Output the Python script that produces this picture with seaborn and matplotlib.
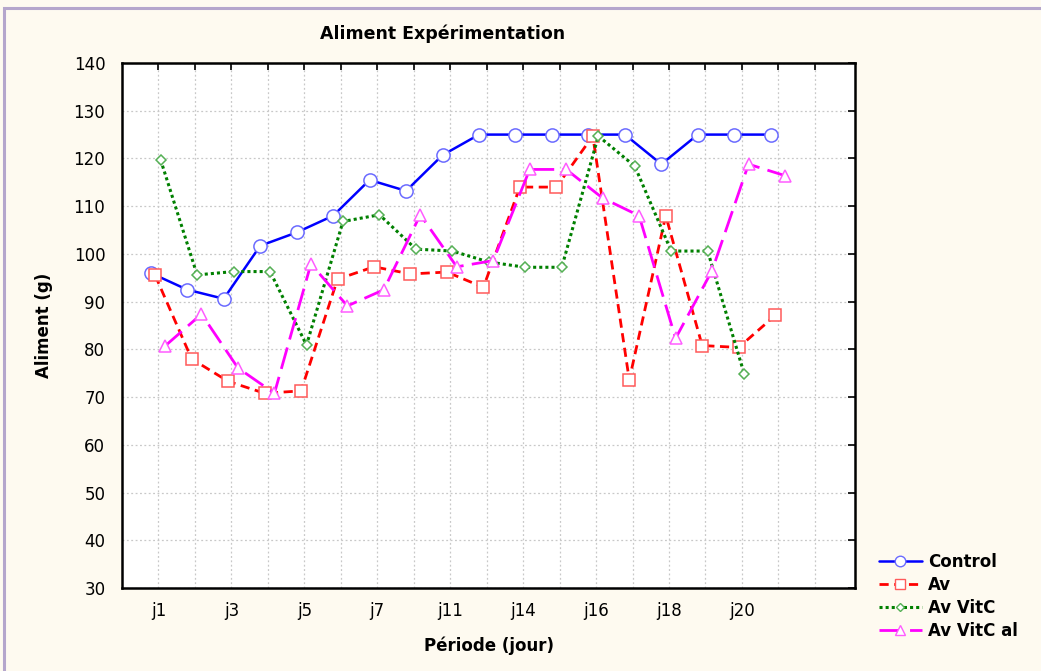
import numpy as np
import pandas as pd
import matplotlib
matplotlib.use("Agg")
import matplotlib.pyplot as plt
import seaborn as sns
from matplotlib.lines import Line2D
from matplotlib.patches import Rectangle

# ---------------- data ----------------
categories = ["j1", "j2", "j3", "j4", "j5", "j6", "j7", "j9", "j11", "j13",
              "j14", "j15", "j16", "j17", "j18", "j19", "j20", "j21"]
tick_labels = ["j1", "", "j3", "", "j5", "", "j7", "", "j11", "", "j14", "",
               "j16", "", "j18", "", "j20", "", ""]
control = [96.0, 92.5, 90.6, 101.7, 104.5, 108.0, 115.5, 113.2, 120.7, 125.0,
           125.0, 125.0, 125.0, 125.0, 118.8, 125.0, 125.0, 125.0]
av = [95.5, 78.0, 73.3, 70.8, 71.3, 94.7, 97.3, 95.8, 96.2, 93.0,
      114.0, 114.0, 124.7, 73.6, 108.0, 80.8, 80.4, 87.1]
av_vitc = [119.7, 95.6, 96.3, 96.3, 80.9, 106.8, 108.2, 101.0, 100.6, 98.3,
           97.2, 97.2, 124.7, 118.4, 100.6, 100.6, 74.9, np.nan]
av_vitc_al = [80.7, 87.4, 76.1, 70.8, 97.9, 89.1, 92.5, 108.2, 97.3, 98.6,
              117.7, 117.7, 111.7, 108.0, 82.3, 96.5, 118.8, 116.4]
series_names = ["Control", "Av", "Av VitC", "Av VitC al"]
series_values = [control, av, av_vitc, av_vitc_al]

# ---------------- styles ----------------
styles = {
    "Control":    dict(color="#0000ff", mec="#6b6bff", marker="o", ms=9.5, lw=1.8, dash=None, off=-0.21),
    "Av":         dict(color="#ff0000", mec="#ff5a5a", marker="s", ms=8.5, lw=2.0, dash=(3.3, 2.0), off=-0.09),
    "Av VitC":    dict(color="#008000", mec="#55b055", marker="D", ms=5.0, lw=2.2, dash=(1.0, 1.0), off=0.06),
    "Av VitC al": dict(color="#ff00ff", mec="#ff5cff", marker="^", ms=8.5, lw=2.0, dash=(8.0, 3.0), off=0.18),
}

bg = "#fefaf0"
sns.set_theme(style="white")
plt.rcParams["font.family"] = ["DejaVu Sans"]
plt.rcParams["text.color"] = "black"
plt.rcParams["axes.labelcolor"] = "black"
plt.rcParams["xtick.color"] = "black"
plt.rcParams["ytick.color"] = "black"

fig = plt.figure(figsize=(10.41, 6.71), dpi=100, facecolor=bg)
ax = fig.add_axes([122 / 1041, 1 - 588 / 671, (855 - 122) / 1041, (588 - 63) / 671])
ax.set_facecolor("white")

idx = np.arange(len(categories))
handles = []
for name, vals in zip(series_names, series_values):
    st = styles[name]
    df = pd.DataFrame({"x": idx + st["off"], "y": vals}).dropna()
    sns.lineplot(data=df, x="x", y="y", ax=ax, color=st["color"], lw=st["lw"],
                 marker=st["marker"], markersize=st["ms"], markerfacecolor="white",
                 markeredgecolor=st["mec"], markeredgewidth=1.1, sort=False,
                 estimator=None, zorder=3)
    line = ax.lines[-1]
    if st["dash"] is not None:
        line.set_dashes(st["dash"])
    handles.append(Line2D([0], [0], color=st["color"], lw=st["lw"],
                          dashes=st["dash"] if st["dash"] else (None, None),
                          marker=st["marker"], markersize=st["ms"] * 0.8,
                          markerfacecolor="white", markeredgecolor=st["mec"]))

ax.set_xlim(-1, 19.1)
ax.set_ylim(30, 140)
ax.set_xticks(np.arange(len(tick_labels)))
ax.set_xticklabels(tick_labels)
ax.set_yticks(np.arange(30, 141, 10))
ax.tick_params(axis="both", direction="in", length=5, width=1.2, labelsize=12,
               top=True, right=True, colors="black", labelcolor="black", pad=10)
ax.tick_params(axis="y", pad=12)
ax.grid(True, color="#c8c8c8", linestyle=(0, (1.5, 2)), linewidth=0.9)
for sp in ax.spines.values():
    sp.set_color("black")
    sp.set_linewidth(1.8)

ax.set_xlabel("Période (jour)", fontsize=12, fontweight="bold", labelpad=12,
              color="black")
ax.set_ylabel("Aliment (g)", fontsize=12, fontweight="bold", labelpad=15,
              color="black")
fig.text(443 / 1041, 1 - 34 / 671, "Aliment Expérimentation", ha="center",
         va="center", fontsize=12.5, fontweight="bold", color="black")

leg = fig.legend(handles, series_names, loc="upper left",
                 bbox_to_anchor=(872 / 1041, 1 - 546 / 671), frameon=False,
                 prop=dict(weight="bold", size=12), handlelength=2.6,
                 labelspacing=0.3, handletextpad=0.35, borderaxespad=0,
                 labelcolor="black")

fig.patches.append(Rectangle((4 / 1041, -0.01), 1.02, 1 - 8 / 671 + 0.01,
                             transform=fig.transFigure, fill=False,
                             edgecolor="#b5a6cc", lw=2.2, zorder=0))

fig.savefig("out.png", dpi=100, facecolor=bg)
